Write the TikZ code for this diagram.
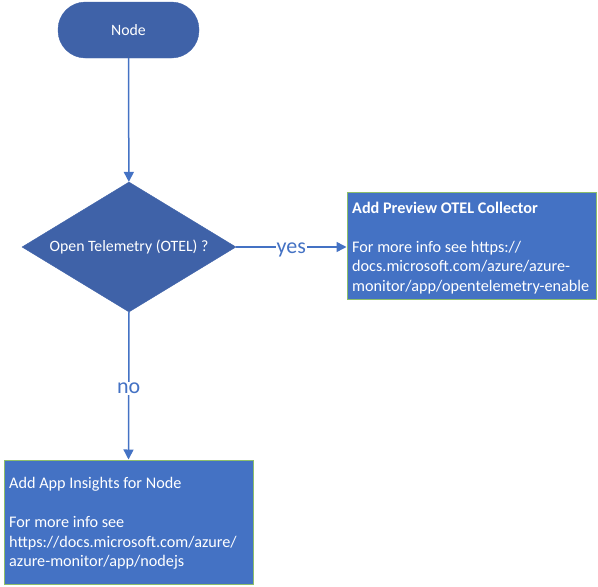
\documentclass[tikz,border=0pt]{standalone}
\usepackage{fontspec}
\setmainfont{Carlito}
\usetikzlibrary{shapes.geometric,arrows.meta}
\definecolor{shapeblue}{HTML}{3F62A8}
\definecolor{boxblue}{HTML}{4472C4}
\definecolor{boxgreen}{HTML}{8DBE6B}
\definecolor{linkblue}{HTML}{4472C4}
\begin{document}
\begin{tikzpicture}[x=1pt,y=-1pt,
  term/.style={draw=shapeblue, fill=shapeblue, text=white, rounded corners=27.5pt,
    minimum width=141pt, minimum height=56pt, inner sep=0pt, font=\fontsize{15.8}{19}\selectfont},
  decision/.style={diamond, aspect=1.646, draw=shapeblue, fill=shapeblue, text=white,
    minimum width=214pt, minimum height=130pt, inner sep=0pt, font=\fontsize{15.8}{19}\selectfont},
  infobox/.style={draw=boxgreen, fill=boxblue, line width=1pt, inner sep=0pt},
  infotext/.style={text=white, anchor=north west, inner sep=0pt, align=left,
    font=\fontsize{16.2}{19.5}\selectfont},
  conn/.style={draw=linkblue, line width=1.5pt, -{Triangle[length=10pt,width=10pt]}},
  lbl/.style={text=linkblue, fill=white, inner sep=1pt, yshift=-2.5pt, font=\fontsize{22}{26}\selectfont}
]
\useasboundingbox (0,0) rectangle (598,587);
\node[term] (start) at (128.5,30) {Node};
\node[decision] (otel) at (129,247) {Open Telemetry (OTEL) ?};
\node[infobox, minimum width=249pt, minimum height=107pt] (preview) at (471.5,245.5) {};
\node[infotext] (previewtext) at (352,201.5) {\textbf{Add Preview OTEL Collector}\\[19.5pt]For more info see https://\\docs.microsoft.com/azure/azure-\\monitor/app/opentelemetry-enable};
\node[infobox, minimum width=249pt, minimum height=124pt] (appins) at (128.5,522) {};
\node[infotext] (appinstext) at (9,477.5) {Add App Insights for Node\\[19.5pt]For more info see\\https://docs.microsoft.com/azure/\\azure-monitor/app/nodejs};
\draw[conn] (start) -- (otel);
\draw[conn] (otel.east) -- node[lbl] (yes) {yes} (preview.west |- otel.east);
\draw[conn] (otel.south) -- node[lbl, pos=0.5] (no) {no} (appins.north);
\end{tikzpicture}
\end{document}
